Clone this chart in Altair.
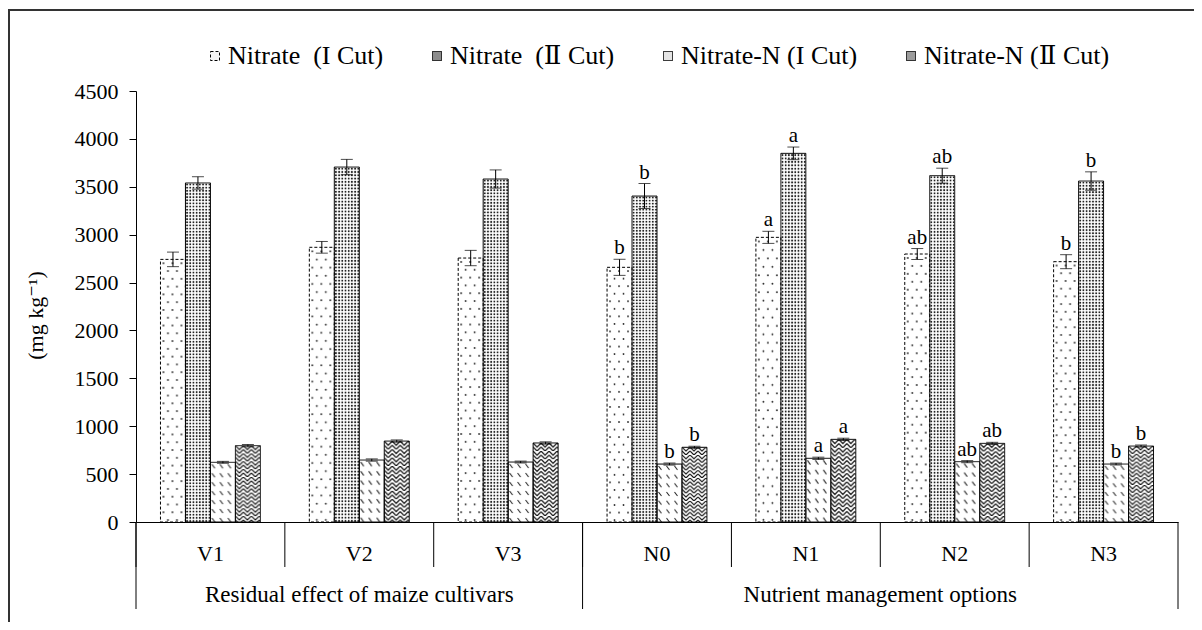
import base64
import altair as alt
import pandas as pd

# ---------------- data ----------------
categories = ["V1", "V2", "V3", "N0", "N1", "N2", "N3"]
group_names = ["Residual effect of maize cultivars", "Nutrient management options"]
group_members = [["V1", "V2", "V3"], ["N0", "N1", "N2", "N3"]]
series_names = ["Nitrate\u00a0 (I Cut)", "Nitrate\u00a0 (\u2161 Cut)",
                "Nitrate-N (I Cut)", "Nitrate-N (\u2161 Cut)"]

nitrate_cut1 = [2742, 2868, 2756, 2659, 2972, 2798, 2718]
nitrate_cut2 = [3540, 3706, 3581, 3403, 3849, 3616, 3560]
nitrate_n_cut1 = [623, 647, 626, 605, 665, 630, 605]
nitrate_n_cut2 = [797, 845, 825, 780, 863, 821, 793]

err_cut1 = [76, 61, 80, 84, 63, 57, 73]
err_cut2 = [65, 80, 95, 130, 66, 78, 96]
err_n_cut1 = [10, 12, 10, 11, 12, 11, 10]
err_n_cut2 = [12, 12, 12, 11, 12, 11, 11]

letters_cut1 = ["", "", "", "b", "a", "ab", "b"]
letters_cut2 = ["", "", "", "b", "a", "ab", "b"]
letters_n_cut1 = ["", "", "", "b", "a", "ab", "b"]
letters_n_cut2 = ["", "", "", "b", "a", "ab", "b"]

y_ticks = [0, 500, 1000, 1500, 2000, 2500, 3000, 3500, 4000, 4500]

# ---------------- styling ----------------
FONT = "Liberation Serif, DejaVu Serif, serif"
legend_tones = ["#f4f4f4", "#8c8c8c", "#e4e4e4", "#9c9c9c"]

pattern_defs = [
    '<pattern id="p" width="9" height="16" patternUnits="userSpaceOnUse">'
    '<circle cx="3" cy="4" r="0.9" fill="#222"/><circle cx="7.5" cy="12" r="0.9" fill="#222"/></pattern>',
    '<pattern id="p" width="3.2" height="3.2" patternUnits="userSpaceOnUse">'
    '<circle cx="1.6" cy="1.6" r="1" fill="#222"/></pattern>',
    '<pattern id="p" width="8" height="9" patternUnits="userSpaceOnUse">'
    '<path d="M1.5 2 L4.5 6" stroke="#222" stroke-width="1.1"/></pattern>',
    '<pattern id="p" width="8" height="8" patternUnits="userSpaceOnUse">'
    '<path d="M0 0 L4 4 L8 0 M0 4 L4 8 L8 4" stroke="#111" stroke-width="1.2" fill="none"/></pattern>',
]
pattern_sizes = [(25, 270), (25, 345), (25, 60), (25, 78)]


def svg_url(inner, w, h):
    svg = (f'<svg xmlns="http://www.w3.org/2000/svg" width="{w}" height="{h}" '
           f'viewBox="0 0 {w} {h}" preserveAspectRatio="none"><defs>{inner}</defs>'
           f'<rect width="{w}" height="{h}" fill="#ffffff"/>'
           f'<rect width="{w}" height="{h}" fill="url(#p)"/></svg>')
    return "data:image/svg+xml;base64," + base64.b64encode(svg.encode("utf-8")).decode("ascii")


pattern_urls = [svg_url(d, w, h) for d, (w, h) in zip(pattern_defs, pattern_sizes)]

values = [nitrate_cut1, nitrate_cut2, nitrate_n_cut1, nitrate_n_cut2]
errors = [err_cut1, err_cut2, err_n_cut1, err_n_cut2]
letters = [letters_cut1, letters_cut2, letters_n_cut1, letters_n_cut2]

rows = []
for si, s in enumerate(series_names):
    for ci, c in enumerate(categories):
        v = values[si][ci]
        e = errors[si][ci]
        rows.append({"cat": c, "series": s, "value": v, "lo": v - e, "hi": v + e,
                     "letter": letters[si][ci], "url": pattern_urls[si]})
df = pd.DataFrame(rows)

W, H = 1042, 431

x_main = alt.X(
    "cat:N",
    scale=alt.Scale(domain=categories, paddingInner=0, paddingOuter=0),
    axis=alt.Axis(title=None, ticks=False, tickSize=0, domainColor="black", domainWidth=1,
                  labelFont=FONT, labelFontSize=22, labelColor="black", labelAngle=0,
                  labelPadding=38, labelBaseline="alphabetic", grid=False),
)
x_plain = alt.X("cat:N")
xo_main = alt.XOffset("series:N", scale=alt.Scale(domain=series_names, paddingInner=0, paddingOuter=0.98))
xo_plain = alt.XOffset("series:N")

y_main = alt.Y(
    "value:Q",
    scale=alt.Scale(domain=[0, 4500], nice=False),
    axis=alt.Axis(values=y_ticks, format="d", tickSize=7, tickColor="black", domainColor="black",
                  labelFont=FONT, labelFontSize=22, labelColor="black", labelPadding=11,
                  grid=False, title="(mg kg\u207b\u00b9)", titleFont=FONT, titleFontSize=22,
                  titleFontWeight="normal", titleColor="black", titleX=-89, titleY=224),
)

base = alt.Chart(df)

bars = base.mark_bar(strokeWidth=0).encode(
    x=x_main, xOffset=xo_main, y=y_main,
    color=alt.Color("series:N",
                    scale=alt.Scale(domain=series_names, range=legend_tones),
                    legend=alt.Legend(title=None, orient="none", legendX=66, legendY=-48,
                                      direction="horizontal", symbolType="square", symbolSize=81,
                                      symbolStrokeColor="black", symbolStrokeWidth=1,
                                      labelFont=FONT, labelFontSize=26, labelColor="black",
                                      labelLimit=500, labelOffset=0, columnPadding=40, padding=0)),
)

textures = base.mark_image(aspect=False).encode(
    x=x_plain, xOffset=xo_plain,
    y=alt.Y("value:Q"), y2=alt.datum(0),
    url=alt.Url("url:N"),
)

outlines = base.mark_bar(fill="transparent", stroke="black", strokeWidth=1).encode(
    x=x_plain, xOffset=xo_plain, y=alt.Y("value:Q"),
    strokeDash=alt.StrokeDash("series:N",
                              scale=alt.Scale(domain=series_names, range=[[3, 2], [1, 0], [1, 0], [1, 0]]),
                              legend=None),
)

err_rule = base.mark_rule(color="black", strokeWidth=1).encode(
    x=x_plain, xOffset=xo_plain, y=alt.Y("lo:Q"), y2="hi:Q")
cap_lo = base.mark_tick(color="black", size=12, thickness=1, orient="horizontal").encode(
    x=x_plain, xOffset=xo_plain, y=alt.Y("lo:Q"))
cap_hi = base.mark_tick(color="black", size=12, thickness=1, orient="horizontal").encode(
    x=x_plain, xOffset=xo_plain, y=alt.Y("hi:Q"))

letter_text = base.transform_filter("datum.letter != ''").mark_text(
    font=FONT, fontSize=21, color="black", baseline="alphabetic", dy=-5).encode(
    x=x_plain, xOffset=xo_plain, y=alt.Y("hi:Q"), text="letter:N")

# category separator lines below the axis
sep = alt.Chart(pd.DataFrame({"cat": categories})).mark_rule(color="black", strokeWidth=1).encode(
    x=alt.X("cat:N", bandPosition=0), y=alt.value(H), y2=alt.value(H + 45))

group_starts = pd.DataFrame({"cat": [g[0] for g in group_members]})
group_end = pd.DataFrame({"cat": [group_members[-1][-1]]})
gline_start = alt.Chart(group_starts).mark_rule(color="black", strokeWidth=1).encode(
    x=alt.X("cat:N", bandPosition=0), y=alt.value(H), y2=alt.value(H + 87))
gline_end = alt.Chart(group_end).mark_rule(color="black", strokeWidth=1).encode(
    x=alt.X("cat:N", bandPosition=1), y=alt.value(H), y2=alt.value(H + 87))

g1 = alt.Chart(pd.DataFrame({"cat": ["V2"], "label": [group_names[0]]})).mark_text(
    font=FONT, fontSize=23, color="black", baseline="alphabetic").encode(
    x=alt.X("cat:N", bandPosition=0.5), y=alt.value(H + 80), text="label:N")
g2 = alt.Chart(pd.DataFrame({"cat": ["N2"], "label": [group_names[1]]})).mark_text(
    font=FONT, fontSize=23, color="black", baseline="alphabetic").encode(
    x=alt.X("cat:N", bandPosition=0), y=alt.value(H + 80), text="label:N")

one = pd.DataFrame({"k": [0]})
frame_left = alt.Chart(one).mark_rule(color="#333333", strokeWidth=2).encode(
    x=alt.value(-127), y=alt.value(-81), y2=alt.value(H + 120))
frame_top = alt.Chart(one).mark_rule(color="#333333", strokeWidth=2).encode(
    x=alt.value(-128), x2=alt.value(W + 20), y=alt.value(-81))

chart = alt.layer(
    bars, textures, outlines, err_rule, cap_lo, cap_hi, letter_text,
    sep, gline_start, gline_end, g1, g2, frame_left, frame_top,
).properties(
    width=W, height=H,
    autosize=alt.AutoSizeParams(type="none"),
    padding={"left": 128, "top": 83, "right": 16, "bottom": 100},
).configure_view(strokeWidth=0)

chart.save("out.html", embed_options={"renderer": "svg", "actions": False})
